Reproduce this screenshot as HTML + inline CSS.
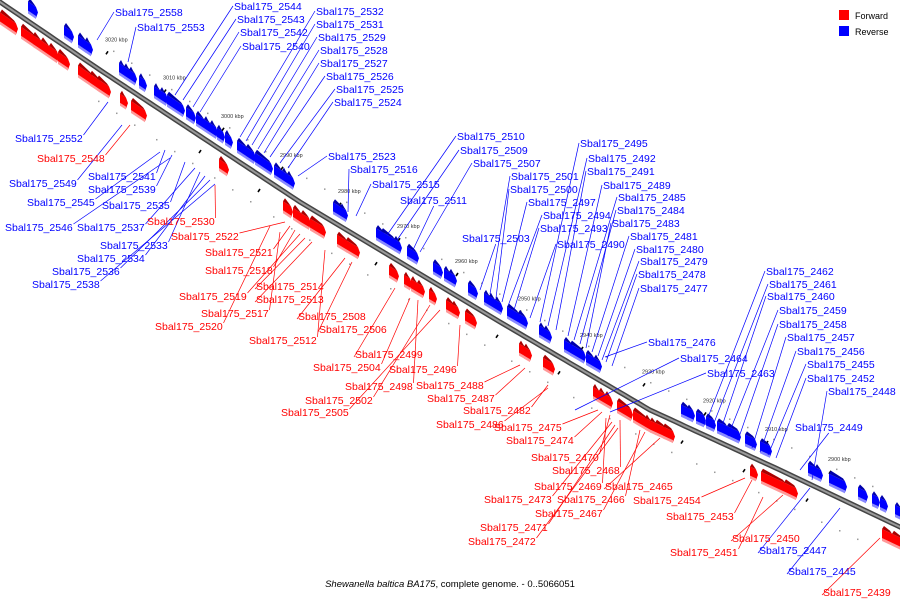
<!DOCTYPE html>
<html><head><meta charset="utf-8"><style>
html,body{margin:0;padding:0;background:#fff;}
svg{display:block;font-family:"Liberation Sans",sans-serif;}
</style></head><body>
<svg id="chart" width="900" height="600" viewBox="0 0 900 600" xmlns="http://www.w3.org/2000/svg">
<g id="axis"></g>
<g id="ticks"></g>
<g id="genes"></g>
<g id="labels"></g>
<g>
<rect x="839" y="10" width="10" height="10" fill="#ff0000"/>
<text x="855" y="19" font-size="9" fill="#000">Forward</text>
<rect x="839" y="26" width="10" height="10" fill="#0000ff"/>
<text x="855" y="35" font-size="9" fill="#000">Reverse</text>
</g>
<text x="450" y="587" font-size="9.5" text-anchor="middle" fill="#000"><tspan font-style="italic">Shewanella baltica BA175</tspan>, complete genome. - 0..5066051</text>
</svg>
<script>
const NS="http://www.w3.org/2000/svg";
// axis shape (screen path of the genome axis)
const axisX=[0,100,200,300,400,500,650,780,900];
const axisY=[2,70,136,202,262,322,410,470,527];
// kbp ticks
const tickLabels=["3020 kbp","3010 kbp","3000 kbp","2990 kbp","2980 kbp","2970 kbp","2960 kbp","2950 kbp","2940 kbp","2930 kbp","2920 kbp","2910 kbp","2900 kbp"];
const tickX=[105,163,221,280,338,397,455,518,580,642,703,765,828];
// forward genes (x center, width)
const fwdX=[8,28,37,45,53,63,85,95,103,123,138,223,287,297,305,317,342,352,393,407,414,420,432,450,455,470,522,527,548,596,602,608,624,640,648,653,660,668,753,773,790,887,897];
const fwdW=[16,14,8,8,8,10,14,10,12,6,14,8,8,8,8,14,10,12,8,6,6,6,6,8,6,10,6,6,10,6,6,6,14,14,6,6,10,10,6,24,12,10,10];
// reverse genes
const revX=[32,68,82,88,122,127,132,142,157,163,175,190,200,207,213,220,228,242,250,263,278,285,290,338,343,380,388,397,412,437,447,452,472,487,492,498,513,522,542,547,568,577,590,597,685,690,700,710,722,733,750,765,812,818,837,862,875,883,898];
const revW=[8,8,8,6,6,6,6,6,6,6,16,8,8,6,6,6,6,10,8,16,8,6,6,10,6,8,14,6,10,8,6,6,8,6,6,6,12,8,6,6,8,14,8,6,8,6,8,8,10,12,10,10,8,6,16,8,6,6,6];
// labels
const labText=["2558","2553","2544","2543","2542","2540","2532","2531","2529","2528","2527","2526","2525","2524","2523","2516","2515","2511","2510","2509","2507","2503","2501","2500","2497","2494","2493","2490","2495","2492","2491","2489","2485","2484","2483","2481","2480","2479","2478","2477","2476","2464","2463","2462","2461","2460","2459","2458","2457","2456","2455","2452","2448","2449",
"2552","2549","2541","2539","2545","2535","2546","2537","2533","2534","2536","2538","2447","2445",
"2548","2530","2522","2521","2518","2519","2514","2513","2517","2508","2520","2506","2512","2499","2504","2496","2498","2488","2502","2487","2505","2482","2486","2475","2474","2470","2468","2469","2465","2473","2466","2454","2467","2453","2471","2472","2450","2451","2439"];
const labX=[115,137,234,237,240,242,316,316,318,320,320,326,336,334,328,350,372,400,457,460,473,462,511,510,528,543,540,557,580,588,587,603,618,617,612,630,636,640,638,640,648,680,707,766,769,767,779,779,787,797,807,807,828,795,
15,9,88,88,27,102,5,77,100,77,52,32,759,788,
37,147,171,205,205,179,256,256,201,298,155,319,249,355,313,389,345,416,305,427,281,463,436,494,506,531,552,534,605,484,557,633,535,666,480,468,732,670,823];
const labY=[12,27,6,19,32,46,11,24,37,50,63,76,89,102,156,169,184,200,136,150,163,238,176,189,202,215,228,244,143,158,171,185,197,210,223,236,249,261,274,288,342,358,373,271,284,296,310,324,337,351,364,378,391,427,
138,183,176,189,202,205,227,227,245,258,271,284,550,571,
158,221,236,252,270,296,286,299,313,316,326,329,340,354,367,369,386,385,400,398,412,410,424,427,440,457,470,486,486,499,499,500,513,516,527,541,538,552,592];
const labTX=[97,128,175,183,193,200,240,246,252,258,264,270,280,288,298,348,356,412,385,395,420,480,490,496,502,508,514,530,540,548,556,568,574,580,586,592,598,602,606,612,605,575,610,705,712,720,728,738,752,760,768,776,812,800,
108,122,165,172,160,185,170,195,200,205,210,215,810,840,
130,215,285,290,295,300,305,312,280,345,270,352,325,395,410,460,418,520,430,525,440,548,548,598,602,610,620,606,660,612,640,745,645,752,615,618,783,763,880];
const labTY=[40,62,95,100,107,112,137,141,145,149,153,157,163,168,176,212,216,252,238,243,252,290,294,298,302,306,310,318,322,326,330,336,340,344,348,352,356,360,362,366,357,410,412,425,428,432,436,440,448,452,455,458,480,470,
102,125,150,155,152,162,158,168,172,176,180,184,488,508,
125,185,222,226,230,234,238,242,232,258,226,262,250,288,298,325,300,365,305,368,310,385,388,410,412,415,420,418,438,422,430,478,432,480,425,428,495,497,538];
const labColor=[];for(let i=0;i<labText.length;i++)labColor.push(i<68?"#0000ff":"#ff0000");

function curveY(x){
  for(let i=0;i<axisX.length-1;i++){
    if(x<=axisX[i+1]){const t=(x-axisX[i])/(axisX[i+1]-axisX[i]);return axisY[i]+t*(axisY[i+1]-axisY[i]);}
  }
  const n=axisX.length-1;return axisY[n]+(x-axisX[n])*(axisY[n]-axisY[n-1])/(axisX[n]-axisX[n-1]);
}
const axisG=document.getElementById('axis');
let pts=[];for(let x=-5;x<=905;x+=5)pts.push(x+","+curveY(x).toFixed(1));
const l1=document.createElementNS(NS,'polyline');


l1.setAttribute('points',pts.join(' '));l1.setAttribute('fill','none');l1.setAttribute('stroke','#444');l1.setAttribute('stroke-width','5');
axisG.appendChild(l1);
const l2=document.createElementNS(NS,'polyline');


l2.setAttribute('points',pts.join(' '));l2.setAttribute('fill','none');l2.setAttribute('stroke','#999');l2.setAttribute('stroke-width','2');
axisG.appendChild(l2);

const tickG=document.getElementById('ticks');
for(let i=0;i<tickX.length;i++){
  const x=tickX[i],y=curveY(x);
  const t=document.createElementNS(NS,'text');
  
  
  t.setAttribute('x',x);t.setAttribute('y',y-32);t.setAttribute('font-size','5.5');t.setAttribute('fill','#333');
  t.textContent=tickLabels[i];tickG.appendChild(t);
  const d=document.createElementNS(NS,'line');
  
  
  d.setAttribute('x1',x+3);d.setAttribute('y1',y-22);d.setAttribute('x2',x+1);d.setAttribute('y2',y-19);
  d.setAttribute('stroke','#000');d.setAttribute('stroke-width','1.6');tickG.appendChild(d);
  const d2=document.createElementNS(NS,'line');
  
  
  d2.setAttribute('x1',x-20);d2.setAttribute('y1',curveY(x-30)+20);d2.setAttribute('x2',x-22);d2.setAttribute('y2',curveY(x-30)+23);
  d2.setAttribute('stroke','#000');d2.setAttribute('stroke-width','1.6');tickG.appendChild(d2);
  for(let k=0;k<3;k++){
    const xx=x+k*18+8;
    const c=document.createElementNS(NS,'rect');
    
    
    c.setAttribute('x',xx);c.setAttribute('y',curveY(xx)-28);c.setAttribute('width',1.5);c.setAttribute('height',1.5);c.setAttribute('fill','#999');tickG.appendChild(c);
    const c2=document.createElementNS(NS,'rect');
    
    
    c2.setAttribute('x',xx-15);c2.setAttribute('y',curveY(xx-15)+32);c2.setAttribute('width',1.5);c2.setAttribute('height',1.5);c2.setAttribute('fill','#999');tickG.appendChild(c2);
  }
}

const geneG=document.getElementById('genes');
function drawGene(x,w,fwd){
  const dy=fwd?16:-14,h=11;
  const x1=x-w/2,x2=x+w/2;
  const y1=curveY(x1)+dy,y2=curveY(x2)+dy;
  const main=fwd?"#ff0000":"#0000ff",dark=fwd?"#aa0000":"#0000aa",light=fwd?"#ff9999":"#8888ff";
  const g=document.createElementNS(NS,'g');
  
  
  const p=document.createElementNS(NS,'polygon');
  p.setAttribute('points',`${x1},${y1-h/2} ${x2},${y2-h/2} ${x2+2},${y2} ${x2},${y2+h/2} ${x1},${y1+h/2}`);
  p.setAttribute('fill',main);g.appendChild(p);
  const top=document.createElementNS(NS,'polygon');
  top.setAttribute('points',`${x1},${y1-h/2} ${x2},${y2-h/2} ${x2-2},${y2-h/2-3} ${x1+2},${y1-h/2-3}`);
  top.setAttribute('fill',dark);g.appendChild(top);
  const bot=document.createElementNS(NS,'polygon');
  bot.setAttribute('points',`${x1},${y1+h/2-2} ${x2},${y2+h/2-2} ${x2},${y2+h/2+1} ${x1},${y1+h/2+1}`);
  bot.setAttribute('fill',light);g.appendChild(bot);
  geneG.appendChild(g);
}
for(let i=0;i<fwdX.length;i++)drawGene(fwdX[i],fwdW[i],true);
for(let i=0;i<revX.length;i++)drawGene(revX[i],revW[i],false);

const labG=document.getElementById('labels');
for(let i=0;i<labText.length;i++){
  const txt="Sbal175_"+labText[i];
  const lx=labX[i],ly=labY[i],w=67.5;
  const tx=labTX[i],ty=labTY[i];
  const col=labColor[i];
  let sx,sy;
  if(ty<ly){
    if(tx>=lx+w){sx=lx+w+1;sy=ly-3;}else{sx=lx-1;sy=ly+3;}
  }else{
    if(tx>=lx+w){sx=lx+w+1;sy=ly;}else if(tx<=lx){sx=lx-1;sy=ly;}else{sx=lx+w/2;sy=ly+6;}
  }
  const ln=document.createElementNS(NS,'line');
  
  
  ln.setAttribute('x1',sx);ln.setAttribute('y1',sy);ln.setAttribute('x2',tx);ln.setAttribute('y2',ty);
  ln.setAttribute('stroke',col);ln.setAttribute('stroke-width','0.7');
  labG.appendChild(ln);
  const t=document.createElementNS(NS,'text');
  
  
  t.setAttribute('x',lx);t.setAttribute('y',ly+4);t.setAttribute('font-size','10.5');t.setAttribute('fill',col);
  t.textContent=txt;labG.appendChild(t);
}
</script>
</body></html>
